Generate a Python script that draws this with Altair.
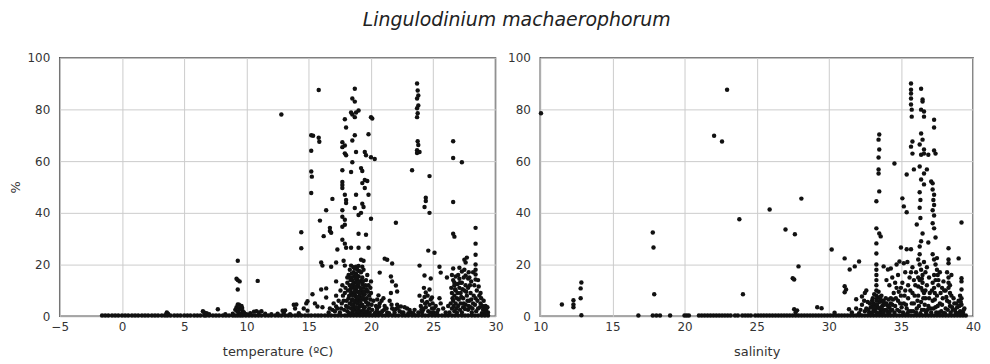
import altair as alt
import pandas as pd

# ---------------- tick values ----------------
temp_ticks = [-5, 0, 5, 10, 15, 20, 25, 30]
sal_ticks = [10, 15, 20, 25, 30, 35, 40]
pct_ticks = [0, 20, 40, 60, 80, 100]

# ---------------- left panel: temperature vs % ----------------
temp_zero_band = [-1.6, -1.35, -1.1, -0.8, -0.55, -0.3, 0.0, 0.25, 0.5, 0.8, 1.05, 1.3, 1.6, 1.85,
                  2.1, 2.4, 2.65, 2.9, 3.2, 3.45, 3.65, 3.9, 4.2, 4.45, 4.7, 5.0, 5.25, 5.5, 5.8,
                  6.05, 6.3, 6.6, 6.75, 7.0, 7.3, 7.55, 7.8, 8.1, 8.35, 8.6, 8.9, 9.1, 9.3, 9.5,
                  9.7, 9.95, 10.2, 10.45, 10.7, 10.95, 11.2, 11.5, 11.75, 12.0, 12.3, 12.55, 12.8,
                  13.1, 13.35, 13.6, 13.9, 14.15, 14.4, 14.7, 14.95, 15.2, 15.5, 15.75, 16.0, 16.3,
                  16.55, 16.8, 17.1, 17.35, 17.6, 17.9, 18.1, 18.35, 18.6, 18.85, 19.1, 19.35, 19.6,
                  19.85, 20.1, 20.35, 20.6, 20.9, 21.15, 21.4, 21.7, 21.95, 22.2, 22.5, 22.75, 23.0,
                  23.3, 23.55, 23.8, 24.1, 24.35, 24.6, 24.9, 25.15, 25.4, 25.7, 25.95, 26.2, 26.5,
                  26.75, 27.0, 27.3, 27.55, 27.8, 28.1, 28.35, 28.6, 28.9, 29.15, 29.4]

temp_pairs = [
    # small bumps on the baseline
    (3.6, 1.5), (3.7, 1.0), (3.55, 0.8), (6.5, 2.0), (6.6, 1.5), (6.8, 1.2), (7.0, 0.8), (7.7, 2.7),
    (8.3, 0.8), (8.9, 1.0), (9.1, 2.5), (9.2, 3.5), (9.3, 4.6), (9.4, 4.5), (9.5, 3.0), (9.6, 4.0),
    (9.7, 2.0), (9.35, 1.5), (9.55, 1.0), (9.8, 1.5), (9.25, 2.0), (9.45, 2.8), (9.65, 3.2),
    (10.0, 0.8), (10.3, 1.2), (10.6, 1.8), (10.8, 2.0), (11.0, 1.5), (11.2, 2.0), (11.5, 1.0),
    (12.0, 0.8), (12.5, 1.0), (12.9, 2.2), (13.0, 1.5), (13.1, 2.3), (13.5, 0.8), (13.8, 4.5),
    (13.9, 3.0), (14.0, 4.6), (14.2, 1.2), (14.6, 3.0), (14.8, 5.0), (14.9, 2.2),
    # around 9-11 C
    (9.3, 21.5), (9.2, 14.5), (9.3, 14.0), (9.45, 13.5), (9.3, 10.4), (10.9, 13.7),
    # 12-17 C
    (12.8, 78.0), (15.8, 87.5), (15.2, 70.0), (15.35, 69.8), (15.2, 64.0), (15.2, 56.0),
    (15.25, 54.0), (15.2, 47.7), (15.8, 69.0), (15.85, 67.5), (14.4, 32.5), (14.4, 26.3),
    (16.9, 45.4), (16.4, 41.0), (15.9, 37.0), (16.2, 31.0), (16.7, 33.0), (16.8, 32.3),
    (16.0, 20.8), (16.1, 19.6), (16.8, 19.2), (17.3, 25.8), (17.2, 13.5), (16.0, 10.4),
    (16.4, 10.8), (15.3, 8.5), (14.9, 5.8), (15.5, 5.0), (16.4, 7.3), (15.7, 3.8),
    (16.1, 3.5), (16.7, 3.0), (17.2, 3.8), (16.7, 34.2),
    # main column 17.5-20.5 C, upper part
    (18.7, 88.0), (18.5, 84.2), (18.7, 83.0), (19.0, 79.6), (18.8, 78.8), (18.5, 78.0),
    (18.4, 78.8), (18.7, 77.0), (20.0, 77.0), (20.1, 76.5), (17.9, 76.2), (18.0, 73.0),
    (19.8, 70.4), (18.7, 70.0), (18.5, 68.0), (17.7, 67.3), (17.9, 66.0), (17.7, 65.4),
    (17.9, 63.0), (18.0, 62.3), (18.8, 63.5), (19.5, 63.5), (19.6, 62.3), (20.0, 61.5),
    (20.3, 60.8), (18.5, 59.6), (17.7, 56.5), (18.4, 55.8), (19.2, 57.3), (19.3, 56.2),
    (19.5, 52.7), (19.7, 52.3), (17.7, 51.9), (17.7, 50.8), (17.7, 49.6), (17.9, 47.0),
    (18.0, 45.0), (18.0, 43.8), (18.8, 47.0), (19.5, 49.6), (19.3, 51.5), (19.8, 47.0),
    (19.3, 43.5), (19.4, 42.3), (18.7, 41.9), (19.0, 39.2), (19.2, 40.0), (20.0, 37.7),
    (17.7, 41.0), (17.7, 38.5), (17.9, 37.3), (17.9, 35.4), (17.7, 34.6), (19.0, 31.9),
    (19.6, 31.5), (17.7, 29.6), (17.9, 28.1), (18.0, 26.5), (18.4, 26.5), (19.0, 26.5),
    (19.8, 26.5), (17.2, 20.8), (17.8, 21.5), (17.9, 19.6), (18.4, 19.6), (18.8, 19.2),
    (19.3, 19.2), (19.2, 21.9), (19.4, 21.5),
    # main column, dense lower part
    (18.2, 16.0), (18.4, 15.0), (18.6, 17.0), (18.8, 16.5), (19.0, 15.5), (19.2, 17.0),
    (18.5, 14.0), (18.7, 13.0), (18.9, 14.5), (19.1, 13.5), (19.3, 12.5), (18.3, 12.0),
    (18.6, 11.0), (18.8, 10.5), (19.0, 11.5), (19.2, 10.0), (19.4, 11.0), (18.4, 9.0),
    (18.7, 8.5), (18.9, 9.5), (19.1, 8.0), (19.3, 9.0), (19.5, 8.5), (18.2, 7.0), (18.5, 6.5),
    (18.8, 7.5), (19.0, 6.0), (19.2, 7.0), (19.4, 6.5), (19.6, 5.5), (18.3, 5.0), (18.6, 4.5),
    (18.9, 5.0), (19.1, 4.0), (19.3, 4.5), (19.5, 3.5), (18.4, 3.0), (18.7, 2.5), (19.0, 3.0),
    (19.2, 2.0), (19.4, 2.5), (19.7, 2.0), (18.1, 2.0), (18.5, 1.5), (18.8, 1.2), (19.1, 1.5),
    (19.3, 1.0), (19.6, 1.0), (19.9, 1.5), (18.0, 4.0), (17.8, 6.0), (17.9, 9.0), (17.6, 3.0),
    (17.7, 12.0), (18.1, 13.0), (19.6, 14.0), (19.8, 12.0), (20.0, 9.0), (20.2, 6.0),
    (20.4, 4.0), (19.8, 5.0), (20.1, 2.5), (18.6, 19.0), (18.9, 18.0), (19.3, 15.0),
    (17.5, 1.5), (17.3, 3.0), (17.0, 5.0), (17.2, 8.0), (16.9, 2.5), (16.6, 1.5),
    (18.15, 10.0), (18.25, 8.0), (18.35, 14.0), (18.45, 6.0), (18.55, 12.5), (18.65, 3.5),
    (18.75, 11.5), (18.85, 6.5), (18.95, 12.5), (19.05, 9.0), (19.15, 5.5), (19.25, 14.0),
    (19.35, 7.5), (19.45, 3.5), (19.55, 12.0), (19.65, 7.0), (19.75, 9.5), (19.85, 3.0),
    (19.95, 6.5), (18.05, 6.0), (18.15, 3.5), (18.25, 1.2), (18.35, 10.5), (18.45, 16.5),
    (18.55, 8.0), (18.65, 15.5), (18.75, 5.5), (18.85, 13.5), (18.95, 2.0), (19.05, 17.5),
    (19.15, 11.0), (19.25, 4.0), (19.35, 13.5), (19.45, 9.5), (19.55, 1.8), (19.65, 10.5),
    (19.75, 4.5), (19.85, 8.0), (19.95, 11.0), (20.05, 4.5), (17.95, 11.0), (17.85, 2.5),
    (17.75, 8.0), (17.65, 5.0), (17.55, 10.0), (20.3, 1.2), (20.5, 6.5), (20.6, 1.5),
    (18.3, 18.0), (18.7, 18.5), (19.0, 19.5), (19.4, 18.0), (18.1, 15.0), (19.7, 16.0),
    (17.4, 6.0), (17.1, 2.0), (18.45, 4.5), (18.55, 2.5), (18.65, 9.5), (18.75, 14.5),
    (18.85, 3.5), (18.95, 7.5), (18.4, 11.5), (18.6, 6.0), (18.8, 16.0), (19.0, 13.0),
    # 20.5-24 C
    (21.1, 22.3), (21.3, 21.9), (21.7, 20.4), (22.0, 36.2), (20.7, 16.9), (21.6, 15.4),
    (21.7, 13.5), (20.6, 8.1), (20.0, 13.5), (22.0, 11.9), (22.1, 9.6), (22.4, 3.8),
    (20.5, 3.0), (20.7, 5.0), (20.9, 2.0), (21.1, 4.0), (21.3, 1.5), (21.5, 6.0), (21.7, 3.0),
    (21.9, 1.5), (22.1, 4.5), (22.3, 2.0), (22.6, 1.5), (22.9, 3.0), (23.2, 1.5), (23.5, 2.5),
    (23.8, 1.5), (21.0, 7.0), (21.6, 9.0), (22.0, 2.8), (20.8, 1.2), (23.0, 1.2),
    (20.45, 2.0), (20.65, 3.8), (20.85, 6.0), (21.05, 2.5), (21.25, 3.0), (21.45, 1.2),
    (21.65, 4.5), (21.85, 2.5), (22.15, 3.2), (22.45, 1.5), (22.7, 3.5), (23.1, 2.5), (23.4, 1.2),
    # 23.5-26 C
    (23.7, 90.0), (23.75, 87.3), (23.8, 85.4), (23.7, 84.2), (23.8, 81.5), (23.7, 80.4),
    (23.75, 78.5), (23.7, 77.0), (23.75, 67.7), (23.8, 66.2), (23.7, 64.2), (23.9, 63.5),
    (23.7, 63.1), (23.3, 56.5), (24.7, 54.2), (24.4, 45.8), (24.4, 44.6), (24.3, 42.3),
    (24.7, 40.0), (23.9, 19.6), (24.6, 25.4), (25.1, 24.6), (24.3, 15.8), (24.8, 14.6),
    (24.7, 10.4), (24.4, 9.2), (24.9, 7.3), (25.5, 19.2), (25.6, 16.9), (26.1, 15.0),
    (24.0, 4.0), (24.1, 6.0), (24.2, 2.5), (24.3, 7.5), (24.4, 3.5), (24.5, 5.5), (24.6, 2.0),
    (24.7, 4.5), (24.8, 6.5), (24.9, 3.0), (25.0, 1.5), (25.2, 4.0), (25.4, 2.5), (25.6, 5.0),
    (25.8, 3.0), (26.0, 1.5), (26.2, 4.0), (23.9, 8.0), (24.1, 1.5), (25.5, 7.0),
    (24.15, 3.0), (24.35, 5.0), (24.55, 8.0), (24.75, 1.5), (24.95, 5.0), (25.05, 3.0),
    (25.3, 1.5), (24.25, 11.0), (24.05, 2.5),
    # 26-29.5 C
    (26.6, 67.7), (26.6, 61.2), (27.3, 59.6), (26.6, 44.2), (26.6, 31.9), (26.7, 30.8),
    (28.4, 34.2), (28.4, 28.1), (28.4, 23.8), (27.5, 21.9), (27.7, 22.7), (27.6, 20.8),
    (27.1, 18.8), (27.3, 17.3), (27.6, 15.8), (27.8, 14.6), (28.4, 20.0), (28.4, 18.0),
    (28.4, 16.2), (28.4, 14.2), (26.6, 18.5), (26.8, 15.4), (26.7, 13.1),
    (26.5, 16.0), (26.6, 14.0), (26.7, 12.0), (26.8, 10.0), (26.5, 9.0), (26.7, 8.0),
    (26.9, 7.0), (26.6, 6.0), (26.8, 5.0), (27.0, 4.0), (26.5, 3.0), (26.7, 2.0), (26.9, 1.5),
    (27.1, 11.0), (27.2, 9.0), (27.3, 13.0), (27.4, 7.0), (27.5, 10.0), (27.6, 12.0),
    (27.7, 8.0), (27.8, 11.0), (27.9, 6.0), (28.0, 9.0), (27.2, 5.0), (27.4, 3.5), (27.6, 4.5),
    (27.8, 2.5), (28.0, 3.5), (28.2, 5.0), (28.4, 7.0), (28.6, 3.0), (28.8, 5.0), (29.0, 2.5),
    (29.2, 4.0), (29.4, 1.5), (28.5, 10.0), (28.7, 8.0), (28.3, 12.0), (28.1, 1.5), (27.3, 1.5),
    (26.3, 1.5), (26.4, 5.0), (28.9, 1.2), (29.1, 3.0), (27.0, 16.0), (27.1, 14.5), (27.5, 18.0),
    (27.9, 15.0), (28.2, 17.0), (28.8, 9.0),
    (26.45, 11.0), (26.55, 7.0), (26.65, 4.0), (26.75, 10.5), (26.85, 3.0), (26.95, 9.0),
    (27.05, 6.5), (27.15, 2.5), (27.25, 7.5), (27.35, 10.5), (27.45, 5.0), (27.55, 2.8),
    (27.65, 9.5), (27.75, 6.0), (27.85, 4.0), (27.95, 12.0), (28.05, 6.5), (28.15, 3.0),
    (28.25, 8.0), (28.35, 4.5), (28.45, 2.0), (28.55, 6.0), (28.65, 11.5), (28.75, 3.5),
    (28.85, 7.0), (28.95, 4.0), (29.05, 6.0), (29.15, 1.5), (29.25, 2.5), (29.35, 3.5),
    (27.15, 13.0), (27.45, 15.0), (27.85, 17.0), (28.05, 13.5), (26.95, 12.5), (28.6, 14.0),
]

# ---------------- right panel: salinity vs % ----------------
sal_zero_band = [16.8, 17.8, 18.05, 18.3, 19.0, 20.0, 20.15, 20.3, 21.0, 21.2, 21.4, 21.6, 21.8,
                 22.0, 22.2, 22.4, 22.6, 22.8, 23.0, 23.2, 23.5, 23.7, 24.0, 24.2, 24.4, 24.6,
                 24.9, 25.1, 25.3, 25.5, 25.7, 25.9, 26.1, 26.3, 26.5, 26.7, 26.9, 27.1, 27.3,
                 27.5, 27.7, 27.9, 28.1, 28.3, 28.5, 28.7, 28.9, 29.1, 29.3, 29.5, 29.7, 29.9,
                 30.1, 30.3, 30.5, 30.7, 30.9, 31.1, 31.3, 31.5, 31.7, 31.9, 32.1, 32.3, 32.5,
                 32.7, 32.9, 33.1, 33.3, 33.5, 33.7, 33.9, 34.1, 34.3, 34.5, 34.7, 34.9, 35.1,
                 35.3, 35.5, 35.7, 35.9, 36.1, 36.3, 36.5, 36.7, 36.9, 37.1, 37.3, 37.5, 37.7,
                 37.9, 38.1, 38.3, 38.5, 38.7, 38.9, 39.1, 39.3, 39.5]

sal_pairs = [
    # low-salinity samples
    (10.05, 78.5), (11.5, 4.6), (12.3, 6.2), (12.3, 4.6), (12.3, 3.5), (12.8, 7.0), (12.8, 10.8),
    (12.85, 13.1), (12.85, 0.4), (17.8, 32.4), (17.85, 26.6), (17.9, 8.5),
    (22.05, 69.8), (22.6, 67.6), (22.95, 87.6), (23.8, 37.5), (24.05, 8.5), (25.9, 41.3),
    (27.0, 33.6), (27.65, 31.7), (27.9, 19.3), (27.5, 14.7), (27.6, 14.2), (28.1, 45.5),
    (27.6, 2.7), (27.8, 2.3), (27.7, 1.5), (29.2, 3.5), (29.5, 3.1), (30.2, 25.8), (30.4, 1.4),
    (31.1, 22.4), (31.45, 18.1), (31.8, 19.3), (32.1, 21.2), (31.1, 11.6), (31.2, 10.4),
    (31.1, 9.3), (31.9, 6.6), (32.3, 7.7), (31.4, 2.7), (32.5, 9.0), (32.6, 10.0),
    # 33-34.5, upper
    (33.5, 70.3), (33.45, 68.3), (33.5, 64.5), (33.45, 61.4), (34.55, 59.1), (33.45, 56.8),
    (33.45, 55.2), (33.5, 48.3), (33.3, 44.5), (33.3, 34.0), (33.5, 32.0), (33.6, 30.9),
    (33.3, 28.2), (33.3, 24.3), (33.3, 20.0), (33.3, 18.0), (33.3, 16.0), (33.3, 14.0),
    (33.3, 12.0), (33.3, 10.0), (33.3, 8.0),
    # 35-37.5, upper
    (35.7, 90.0), (35.7, 87.6), (35.7, 86.1), (35.7, 84.2), (35.7, 81.9), (35.75, 79.9),
    (35.75, 77.2), (36.4, 88.0), (36.5, 83.8), (36.5, 83.0), (36.4, 79.9), (36.6, 79.2),
    (36.6, 77.2), (37.3, 76.0), (37.3, 73.0), (35.8, 67.6), (35.7, 65.6), (35.8, 62.9),
    (36.4, 70.7), (36.5, 68.3), (36.3, 66.4), (36.6, 64.5), (36.4, 62.5), (36.6, 62.9),
    (36.9, 62.5), (37.3, 64.1), (37.4, 62.9), (35.4, 54.8), (35.9, 56.8), (36.3, 57.9),
    (36.6, 55.2), (36.8, 56.8), (36.4, 52.9), (36.6, 51.0), (37.1, 52.1), (37.2, 51.4),
    (35.1, 45.6), (35.2, 42.5), (35.4, 40.2), (36.1, 35.5), (36.5, 32.0),
    (36.3, 48.0), (36.35, 45.0), (36.3, 42.0), (36.35, 38.0), (36.4, 29.0), (36.3, 27.0),
    (37.2, 49.0), (37.3, 47.0), (37.25, 45.0), (37.3, 43.0), (37.2, 41.0), (37.3, 39.0),
    (37.2, 36.0), (37.3, 34.0), (37.4, 30.5), (36.9, 28.5), (38.3, 26.3), (38.3, 22.0),
    (38.3, 20.5), (39.0, 22.4), (39.2, 36.3), (39.2, 14.7), (39.2, 13.5), (39.2, 10.4),
    # mid range 10-27 %
    (33.8, 19.3), (34.1, 18.1), (34.3, 18.5), (34.7, 20.0), (34.9, 21.2), (35.2, 20.5),
    (35.0, 26.6), (35.4, 25.9), (35.7, 25.9), (34.0, 14.0), (34.2, 12.0), (34.4, 15.0),
    (34.6, 13.0), (34.8, 16.0), (35.0, 11.0), (35.3, 17.0), (35.5, 12.0), (35.7, 17.0),
    (35.9, 14.0), (36.2, 22.0), (36.3, 20.0), (36.4, 18.0), (36.5, 16.0), (36.3, 24.0),
    (36.6, 21.0), (36.7, 17.0), (36.2, 15.0), (36.5, 13.0), (36.8, 19.0), (36.4, 11.0),
    (36.6, 9.0), (37.2, 24.0), (37.3, 22.0), (37.4, 20.0), (37.5, 18.0), (37.3, 16.0),
    (37.4, 14.0), (37.6, 12.0), (37.2, 13.0), (37.5, 22.5), (37.7, 17.0), (38.2, 17.0),
    (38.3, 15.0), (38.4, 12.0), (38.1, 10.0), (38.5, 16.0), (38.3, 11.0), (39.1, 8.0),
    (39.2, 7.0), (36.2, 11.5), (36.45, 14.5), (36.7, 10.0), (37.35, 9.0), (37.55, 16.0),
    (37.85, 11.0), (38.4, 9.0), (36.05, 17.0), (35.8, 19.0), (35.45, 21.0), (36.95, 15.0),
    (37.95, 13.5),
    # dense low part
    (31.6, 1.5), (31.9, 3.0), (32.1, 1.2), (32.3, 4.5), (32.5, 2.0), (32.7, 5.5), (32.8, 1.5),
    (32.9, 3.5), (33.0, 6.0), (33.1, 2.5), (33.2, 4.5), (33.3, 1.5), (33.35, 7.0), (33.4, 3.5),
    (33.5, 5.5), (33.6, 2.0), (33.65, 8.0), (33.7, 4.0), (33.8, 6.0), (33.9, 2.5), (34.0, 5.0),
    (34.1, 1.5), (34.2, 3.5), (34.3, 7.0), (34.4, 2.5), (32.95, 0.8), (33.25, 3.0), (33.55, 1.0),
    (33.85, 4.5), (34.15, 6.5), (33.15, 8.5), (33.45, 9.5), (33.75, 1.2), (33.05, 4.0), (32.6, 3.0),
    (33.0, 1.5), (33.1, 5.0), (33.2, 2.0), (33.3, 6.0), (33.4, 1.2), (33.5, 3.0), (33.6, 6.5),
    (33.7, 2.5), (33.8, 1.5), (33.9, 5.0), (34.0, 2.5), (34.1, 4.0), (34.2, 1.5), (34.3, 5.0),
    (34.4, 4.5), (33.15, 3.5), (33.35, 4.5), (33.55, 7.5), (33.75, 5.5), (33.95, 7.0),
    (34.25, 2.2), (32.85, 5.0), (32.75, 2.5), (32.45, 6.0), (32.2, 2.5), (34.45, 6.5),
    (33.05, 7.0), (33.65, 3.2),
    (34.5, 9.0), (34.6, 4.0), (34.7, 11.0), (34.8, 6.0), (34.9, 2.0), (35.0, 8.0), (35.1, 13.0),
    (35.2, 5.0), (35.3, 10.0), (35.4, 3.0), (35.5, 7.0), (35.6, 15.0), (35.7, 2.0), (35.8, 9.0),
    (35.9, 5.0), (36.0, 12.0), (36.1, 3.0), (36.2, 8.0), (36.3, 14.0), (36.4, 5.5), (36.5, 10.0),
    (36.6, 2.5), (36.7, 7.0), (36.8, 12.0), (36.9, 4.0), (37.0, 9.0), (37.1, 1.5), (37.2, 6.0),
    (37.3, 11.0), (37.4, 3.5), (37.5, 8.0), (37.6, 14.0), (37.7, 5.0), (37.8, 2.0), (37.9, 7.0),
    (38.0, 10.0), (38.1, 3.0), (38.2, 6.0), (38.3, 13.0), (38.4, 4.0), (38.5, 8.0), (38.6, 2.5),
    (38.7, 5.0), (38.8, 1.5), (38.9, 3.5), (39.0, 6.0), (39.1, 2.0), (39.2, 4.5), (39.3, 1.5),
    (39.4, 3.0), (34.55, 1.5), (35.05, 3.5), (35.45, 1.2), (35.85, 2.0), (36.25, 4.0),
    (36.35, 1.2), (36.75, 1.5), (37.25, 3.0), (37.65, 1.5), (38.05, 1.2), (38.45, 1.5),
    (34.65, 7.0), (34.75, 2.5), (34.85, 9.5), (34.95, 5.0), (35.15, 1.5), (35.25, 8.0),
    (35.35, 4.5), (35.55, 2.0), (35.65, 10.0), (35.75, 5.0), (35.95, 8.0), (36.05, 1.5),
    (36.15, 6.0), (36.45, 2.5), (36.55, 7.0), (36.65, 4.5), (36.85, 2.5), (36.95, 7.0),
    (37.05, 3.0), (37.15, 10.0), (37.35, 6.5), (37.45, 1.5), (37.55, 4.0), (37.75, 9.0),
    (37.85, 4.5), (37.95, 1.2), (38.15, 7.5), (38.25, 2.5), (38.35, 5.5), (38.55, 3.5),
    (38.65, 7.0), (38.75, 2.5), (38.85, 5.0), (38.95, 1.2), (39.05, 4.0), (39.15, 5.5),
    (39.25, 1.2), (39.35, 2.5),
]

BASE_PCT = 0.3  # value of the samples lying on the baseline

temp_x = temp_zero_band + [p[0] for p in temp_pairs]
temp_y = [BASE_PCT] * len(temp_zero_band) + [p[1] for p in temp_pairs]
sal_x = sal_zero_band + [p[0] for p in sal_pairs]
sal_y = [BASE_PCT] * len(sal_zero_band) + [p[1] for p in sal_pairs]

temp_df = pd.DataFrame({"temperature": temp_x, "pct": temp_y})
sal_df = pd.DataFrame({"salinity": sal_x, "pct": sal_y})

FONT = "DejaVu Sans"

left = alt.Chart(temp_df).mark_circle(size=20, color="#111111", opacity=1).encode(
    x=alt.X("temperature:Q",
            scale=alt.Scale(domain=[-5, 30], nice=False, zero=False),
            axis=alt.Axis(values=temp_ticks, title="temperature (ºC)", labelPadding=5,
                          titlePadding=13, labelFlush=False)),
    y=alt.Y("pct:Q",
            scale=alt.Scale(domain=[0, 100], nice=False),
            axis=alt.Axis(values=pct_ticks, title="%", labelPadding=10, titlePadding=5)),
).properties(width=438, height=260)

right = alt.Chart(sal_df).mark_circle(size=20, color="#111111", opacity=1).encode(
    x=alt.X("salinity:Q",
            scale=alt.Scale(domain=[10, 40], nice=False, zero=False),
            axis=alt.Axis(values=sal_ticks, title="salinity", labelPadding=5, titlePadding=13,
                          labelFlush=False)),
    y=alt.Y("pct:Q",
            scale=alt.Scale(domain=[0, 100], nice=False),
            axis=alt.Axis(values=pct_ticks, title=None, labelPadding=10)),
).properties(width=435, height=260)

chart = alt.hconcat(left, right, spacing=45, bounds="flush").properties(
    title=alt.TitleParams(
        text="Lingulodinium machaerophorum",
        font=FONT, fontSize=19, fontStyle="italic", fontWeight="normal",
        color="#222222", anchor="middle", dx=22, offset=21,
    ),
    padding={"left": 0, "top": 2, "right": 0, "bottom": 0},
).configure_view(
    stroke="#555555", strokeWidth=1.5
).configure_axis(
    domain=False, ticks=False, grid=True, gridColor="#cccccc", gridWidth=1,
    labelFont=FONT, labelFontSize=12, labelColor="#333333",
    titleFont=FONT, titleFontSize=13, titleFontWeight="normal", titleColor="#333333",
)

chart.save("out.html", embed_options={"renderer": "svg", "actions": False})
